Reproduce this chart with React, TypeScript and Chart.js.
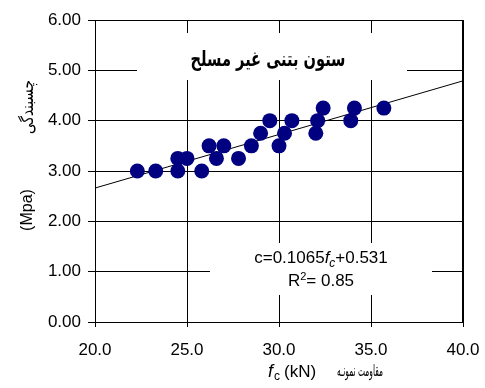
import React, { useEffect, useRef } from "react";
import { Chart, registerables } from "chart.js";

Chart.register(...registerables);

// ---- data ----
const fcValues = [22.3, 23.3, 24.5, 24.5, 25.0, 25.8, 26.2, 26.6, 27.0, 27.8, 28.5, 29.0, 29.5, 30.0, 30.3, 30.7, 32.0, 32.1, 32.4, 33.9, 34.1, 35.7];
const cValues = [3.0, 3.0, 3.25, 3.0, 3.25, 3.0, 3.5, 3.25, 3.5, 3.25, 3.5, 3.75, 4.0, 3.5, 3.75, 4.0, 3.75, 4.0, 4.25, 4.0, 4.25, 4.25];
const trendSlope = 0.1065;
const trendIntercept = 0.531;
const trendX = [20, 40];
const xTicks = [20, 25, 30, 35, 40];
const yTicks = [0, 1, 2, 3, 4, 5, 6];

const chartTitle = "ستون بتنی غیر مسلح";
const yTitleFa = "چسبندگی";
const yTitleUnit = "(Mpa)";
const xTitleFa = "مقاومت نمونـه";
const xTitleUnit = "(kN)";
const eqLine1 = ["c=0.1065", "f", "c", "+0.531"];
const eqLine2 = ["R", "2", "= 0.85"];

const SANS = "'Liberation Sans', Arial, sans-serif";
const ARAB = "'DejaVu Sans', sans-serif";

// draw text centred at cx, squeezed/stretched horizontally to a target width
function drawFit(ctx: CanvasRenderingContext2D, text: string, font: string, cx: number, y: number, target: number) {
  ctx.save();
  ctx.font = font;
  const w = ctx.measureText(text).width;
  const sx = target / w;
  ctx.translate(cx, y);
  ctx.scale(sx, 1);
  ctx.textAlign = "center";
  ctx.fillText(text, 0, 0);
  ctx.restore();
}

const overlayPlugin = {
  id: "overlay",
  beforeDatasetsDraw(chart: any) {
    const ctx: CanvasRenderingContext2D = chart.ctx;
    const { left, right, top, bottom } = chart.chartArea;
    ctx.save();
    ctx.strokeStyle = "#000";
    ctx.lineWidth = 1;
    ctx.strokeRect(left + 0.5, top + 0.5, right - left - 1, bottom - top);
    // title box
    ctx.fillStyle = "#fff";
    ctx.fillRect(137, 33, 270, 47);
    ctx.fillStyle = "#000";
    ctx.textBaseline = "middle";
    drawFit(ctx, chartTitle, `bold 21px ${ARAB}`, 268, 61, 155);
    // equation box
    ctx.fillStyle = "#fff";
    ctx.fillRect(210, 243, 222, 52);
    ctx.restore();
  },
  afterDraw(chart: any) {
    const ctx: CanvasRenderingContext2D = chart.ctx;
    ctx.save();
    ctx.fillStyle = "#000";
    ctx.textBaseline = "alphabetic";
    ctx.textAlign = "left";
    // equation line 1
    const fs = 17;
    const fN = `${fs}px ${SANS}`;
    const fI = `italic ${fs}px ${SANS}`;
    const fSub = `italic ${fs * 0.7}px ${SANS}`;
    ctx.font = fN;
    const w0 = ctx.measureText(eqLine1[0]).width;
    ctx.font = fI;
    const w1 = ctx.measureText(eqLine1[1]).width;
    ctx.font = fSub;
    const w2 = ctx.measureText(eqLine1[2]).width;
    ctx.font = fN;
    const w3 = ctx.measureText(eqLine1[3]).width;
    let x = 321 - (w0 + w1 + w2 + w3) / 2;
    const b1 = 263;
    ctx.font = fN; ctx.fillText(eqLine1[0], x, b1); x += w0;
    ctx.font = fI; ctx.fillText(eqLine1[1], x, b1); x += w1;
    ctx.font = fSub; ctx.fillText(eqLine1[2], x, b1 + 4); x += w2;
    ctx.font = fN; ctx.fillText(eqLine1[3], x, b1);
    // equation line 2
    const fSup = `${fs * 0.65}px ${SANS}`;
    ctx.font = fN;
    const r0 = ctx.measureText(eqLine2[0]).width;
    ctx.font = fSup;
    const r1 = ctx.measureText(eqLine2[1]).width;
    ctx.font = fN;
    const r2 = ctx.measureText(eqLine2[2]).width;
    x = 321 - (r0 + r1 + r2) / 2;
    const b2 = 286;
    ctx.font = fN; ctx.fillText(eqLine2[0], x, b2); x += r0;
    ctx.font = fSup; ctx.fillText(eqLine2[1], x, b2 - 6); x += r1;
    ctx.font = fN; ctx.fillText(eqLine2[2], x, b2);

    // x axis title
    const xb = 377;
    let xx = 268;
    ctx.font = `italic 18px ${SANS}`;
    ctx.fillText("f", xx, xb); xx += ctx.measureText("f").width + 1;
    ctx.font = `12px ${SANS}`;
    ctx.fillText("c", xx, xb + 3); xx += ctx.measureText("c").width + 4;
    ctx.font = `17px ${SANS}`;
    ctx.fillText(xTitleUnit, xx, xb);
    drawFit(ctx, xTitleFa, `16px ${ARAB}`, 360, xb - 1, 46);

    // y axis title (rotated)
    ctx.translate(28, 0);
    ctx.rotate(-Math.PI / 2);
    ctx.textAlign = "center";
    ctx.textBaseline = "middle";
    ctx.font = `16px ${SANS}`;
    ctx.fillText(yTitleUnit, -210, 0);
    drawFit(ctx, yTitleFa, `17px ${ARAB}`, -107, 1, 54);
    ctx.restore();
  },
};

export default function App() {
  const ref = useRef<HTMLCanvasElement | null>(null);
  useEffect(() => {
    if (!ref.current) return;
    const scatterData = fcValues.map((v, i) => ({ x: v, y: cValues[i] }));
    const trendData = trendX.map((v) => ({ x: v, y: trendSlope * v + trendIntercept }));
    const chart = new Chart(ref.current, {
      type: "scatter",
      data: {
        datasets: [
          {
            type: "scatter",
            data: scatterData,
            backgroundColor: "#000080",
            borderColor: "#000080",
            pointRadius: 7.5,
            pointHoverRadius: 7.5,
            borderWidth: 0,
            order: 0,
          },
          {
            type: "line",
            data: trendData,
            borderColor: "#000",
            borderWidth: 1,
            pointRadius: 0,
            fill: false,
            order: 1,
          } as any,
        ],
      },
      options: {
        animation: false,
        responsive: false,
        devicePixelRatio: 1,
        layout: { padding: { left: 0, top: 20, right: 22, bottom: 0 } },
        plugins: { legend: { display: false }, tooltip: { enabled: false }, title: { display: false } },
        scales: {
          x: {
            type: "linear",
            min: 20,
            max: 40,
            afterFit: (s: any) => { s.height = 66; s.paddingLeft = 0; s.paddingRight = 0; },
            afterBuildTicks: (s: any) => { s.ticks = xTicks.map((v) => ({ value: v })); },
            ticks: {
              color: "#000",
              font: { family: SANS, size: 17 },
              padding: 13,
              maxRotation: 0,
              callback: (v: any) => Number(v).toFixed(1),
            },
            grid: { color: "#000", lineWidth: 1, tickLength: 5, drawOnChartArea: true },
            border: { display: true, color: "#000", width: 1 },
          },
          y: {
            type: "linear",
            min: 0,
            max: 6,
            afterFit: (s: any) => { s.width = 95; s.paddingTop = 0; s.paddingBottom = 0; },
            afterBuildTicks: (s: any) => { s.ticks = yTicks.map((v) => ({ value: v })); },
            ticks: {
              color: "#000",
              font: { family: SANS, size: 17 },
              padding: 7,
              callback: (v: any) => Number(v).toFixed(2),
            },
            grid: { color: "#000", lineWidth: 1, tickLength: 7, drawOnChartArea: true },
            border: { display: true, color: "#000", width: 1 },
          },
        },
      },
      plugins: [overlayPlugin],
    });
    return () => chart.destroy();
  }, []);
  return (
    <div style={{ position: "absolute", left: 0, top: 0, width: 485, height: 388, background: "#fff" }}>
      <canvas ref={ref} width={485} height={388} style={{ width: 485, height: 388, display: "block" }} />
    </div>
  );
}
